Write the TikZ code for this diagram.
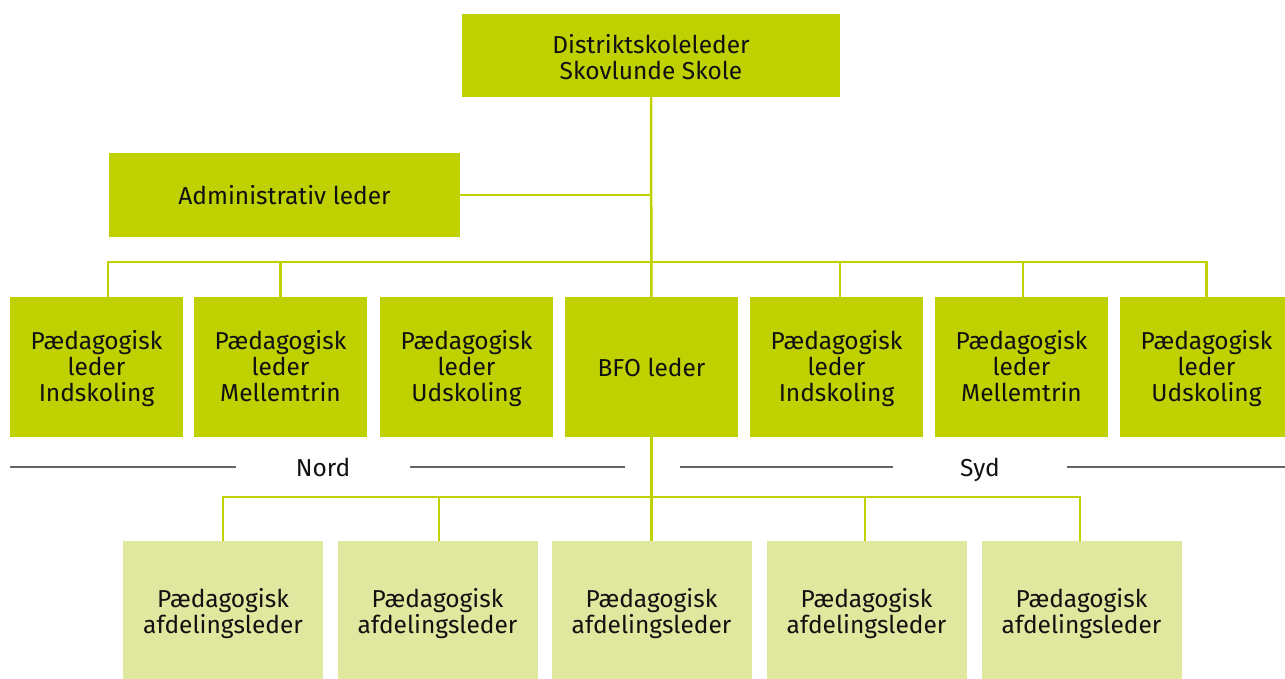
\documentclass[tikz,border=0pt]{standalone}
\usepackage{fontspec}
\setmainfont{Fira Sans}
\usetikzlibrary{calc}
\definecolor{lime}{HTML}{BFD100}
\definecolor{limelight}{HTML}{E0E79E}
\definecolor{txt}{HTML}{111111}
\tikzset{
  box/.style={fill=lime, inner sep=0pt, align=center, text=txt,
    font=\fontsize{24.5}{26}\selectfont},
  leader/.style={box, minimum width=173pt, minimum height=140pt},
  afd/.style={box, fill=limelight, minimum width=200pt, minimum height=146pt},
  link/.style={draw=lime, line width=2.5pt},
  area/.style={draw=black!60, line width=1.3pt},
  arealabel/.style={text=txt, anchor=base, font=\fontsize{24.5}{26}\selectfont}
}
\begin{document}
\begin{tikzpicture}[x=1pt,y=-1pt]
\clip (0,0) rectangle (1285,678);
\fill[white] (0,0) rectangle (1285,678);

\node[box, minimum width=378pt, minimum height=83pt] (top) at (651,55.5) {\rule{0pt}{22pt}Distriktskoleleder\\Skovlunde Skole};
\node[box, minimum width=351pt, minimum height=84pt] (adm) at (284.5,195) {Administrativ leder};

\node[leader] (p1) at (96.5,367) {\rule{0pt}{23pt}Pædagogisk\\leder\\Indskoling};
\node[leader] (p2) at (280.5,367) {\rule{0pt}{23pt}Pædagogisk\\leder\\Mellemtrin\vphantom{g}};
\node[leader] (p3) at (466.5,367) {\rule{0pt}{23pt}Pædagogisk\\leder\\Udskoling};
\node[leader] (bfo) at (651.5,367) {BFO leder};
\node[leader] (p5) at (836.5,367) {\rule{0pt}{23pt}Pædagogisk\\leder\\Indskoling};
\node[leader] (p6) at (1021.5,367) {\rule{0pt}{23pt}Pædagogisk\\leder\\Mellemtrin\vphantom{g}};
\node[leader] (p7) at (1206.5,367) {\rule{0pt}{23pt}Pædagogisk\\leder\\Udskoling};

\node[afd] (a1) at (223,614) {Pædagogisk\\afdelingsleder};
\node[afd] (a2) at (437.5,614) {Pædagogisk\\afdelingsleder};
\node[afd] (a3) at (651.5,614) {Pædagogisk\\afdelingsleder};
\node[afd] (a4) at (866.5,614) {Pædagogisk\\afdelingsleder};
\node[afd] (a5) at (1081.5,614) {Pædagogisk\\afdelingsleder};

\coordinate (m0) at (651.5,262);
\coordinate (m1) at (651.5,497);
\coordinate (m2) at (10,467);
\coordinate (m3) at (625,467);
\coordinate (m4) at (680,467);
\coordinate (m5) at (1285,467);

\node[arealabel] (nord) at (323,476) {Nord};
\node[arealabel] (syd) at (980,476) {Syd};

  \draw[link] (top) -- (bfo);
  \draw[link] (adm.east) -- (adm.east -| top);

  \draw[link] ([xshift=11.5pt]p1.north) |- (m0);
  \draw[link] (p2.north) |- (m0);
  \draw[link] ([xshift=3.5pt]p5.north) |- (m0);
  \draw[link] ([xshift=1.5pt]p6.north) |- (m0);
  \draw[link] (p7.north) |- (m0);

  \draw[link] (bfo) -- (a3);
  \draw[link] (a1.north) |- (m1);
  \draw[link] ([xshift=1.5pt]a2.north) |- (m1);
  \draw[link] ([xshift=-1.5pt]a4.north) |- (m1);
  \draw[link] ([xshift=-1.5pt]a5.north) |- (m1);

  \draw[area] (m2) -- ($(m2 -| nord)+(-87pt,0)$);
  \draw[area] ($(m3 -| nord)+(87pt,0)$) -- (m3);
  \draw[area] (m4) -- ($(m4 -| syd)+(-87pt,0)$);
  \draw[area] ($(m5 -| syd)+(87pt,0)$) -- (m5);
\end{tikzpicture}
\end{document}
